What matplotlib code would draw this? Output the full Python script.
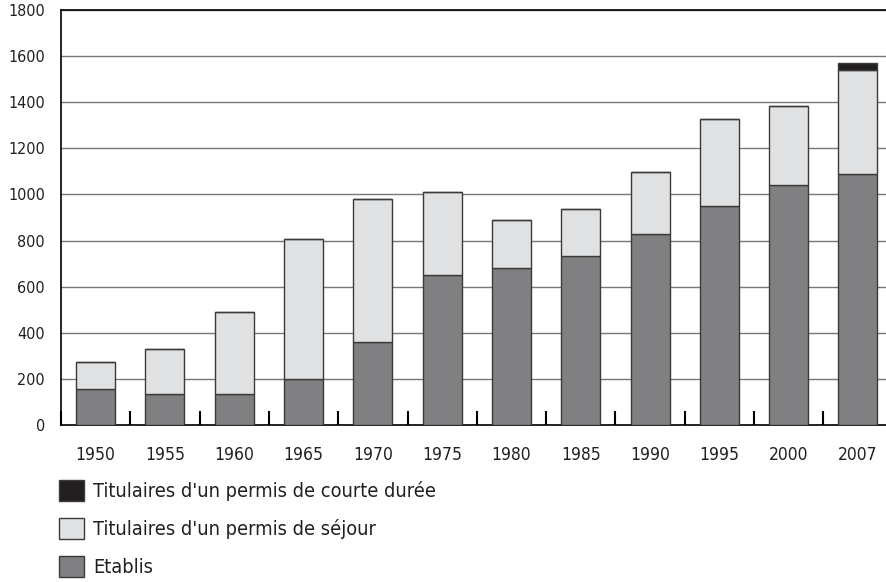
import matplotlib
matplotlib.use("Agg")
import matplotlib.pyplot as plt
import numpy as np

# Data
years = ["1950", "1955", "1960", "1965", "1970", "1975", "1980", "1985",
         "1990", "1995", "2000", "2007"]
etablis = [155, 133, 133, 198, 360, 651, 681, 735, 827, 952, 1039, 1090]
sejour = [120, 195, 357, 608, 620, 359, 209, 201, 271, 377, 346, 450]
courte = [0, 0, 0, 0, 0, 0, 0, 0, 0, 0, 0, 31]

labels = ["Titulaires d'un permis de courte durée",
          "Titulaires d'un permis de séjour",
          "Etablis"]
colors = ["#231f20", "#e0e1e3", "#808083"]

plt.rcParams["font.family"] = ["DejaVu Sans"]
plt.rcParams["font.stretch"] = "condensed"
plt.rcParams["font.size"] = 12
plt.rcParams["text.color"] = "#231f20"
plt.rcParams["xtick.labelcolor"] = "#231f20"
plt.rcParams["ytick.labelcolor"] = "#231f20"

fig = plt.figure(figsize=(8.86, 5.82), dpi=100)
ax = fig.add_axes([61 / 886, 157 / 582, 831.6 / 886, 415 / 582])

x = np.arange(len(years))
w = 0.563
edge = "#3a3a3a"
b1 = ax.bar(x, etablis, w, color=colors[2], edgecolor=edge, linewidth=1, zorder=3)
b2 = ax.bar(x, sejour, w, bottom=etablis, color=colors[1], edgecolor=edge, linewidth=1, zorder=3)
bottom2 = np.array(etablis) + np.array(sejour)
b3 = ax.bar(x, courte, w, bottom=bottom2, color=colors[0], edgecolor=edge, linewidth=1, zorder=3)

ax.set_xlim(-0.5, len(years) - 0.5)
ax.set_ylim(0, 1800)
ax.set_yticks(np.arange(0, 1801, 200))
ax.yaxis.grid(True, color="#777777", linewidth=1, zorder=0)
ax.tick_params(axis="y", length=0, pad=11.5, labelsize=11.5)

ax.set_xticks(x)
ax.set_xticklabels(years)
ax.set_xticks(np.arange(-0.5, len(years), 1), minor=True)
ax.tick_params(axis="x", which="major", length=0, pad=15, labelsize=12.5)
ax.tick_params(axis="x", which="minor", direction="in", length=10, width=1.5, color="black")

for s in ["left", "bottom", "top"]:
    ax.spines[s].set_linewidth(1.2)
    ax.spines[s].set_color("black")
ax.spines["right"].set_visible(False)

fig.legend([b3, b2, b1], labels, loc="upper left", bbox_to_anchor=(59 / 886, 1 - 480 / 582),
           frameon=False, handlelength=1.24, handleheight=1.24, handletextpad=0.46,
           labelspacing=0.85, borderaxespad=0, borderpad=0, fontsize=14.3)

fig.savefig("out.png", dpi=100)
